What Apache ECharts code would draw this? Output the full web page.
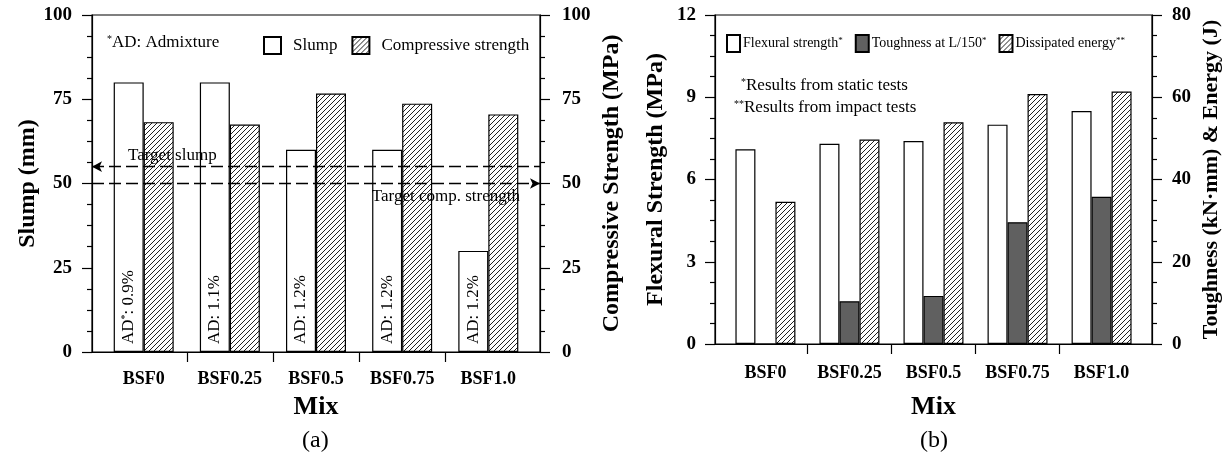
<!DOCTYPE html>
<html>
<head>
<meta charset="utf-8">
<script src="https://cdn.jsdelivr.net/npm/echarts@6/dist/echarts.min.js"></script>
<style>
  html, body { margin: 0; padding: 0; background: #fff; }
  #chart { width: 1227px; height: 466px; }
</style>
</head>
<body>
<div id="chart"></div>
<script>
const mixes = ["BSF0", "BSF0.25", "BSF0.5", "BSF0.75", "BSF1.0"];
// (a) slump and compressive strength
const slump = [80, 80, 60, 60, 30];
const compStrength = [68.2, 67.5, 76.7, 73.7, 70.5];
const adDose = ["0.9%", "1.1%", "1.2%", "1.2%", "1.2%"];
const targetSlump = 55;
const targetStrength = 50;
// (b) flexural, toughness, dissipated energy
const flexural = [7.1, 7.3, 7.4, 8.0, 8.5];
const toughness = [0, 10.4, 11.7, 29.6, 35.8];
const energy = [34.6, 49.7, 53.9, 60.8, 61.4];

const font = "'Liberation Serif', 'Times New Roman', serif";
const ink = "#000";
const darkBar = "#606060";

function hatch() {
  const c = document.createElement("canvas");
  c.width = 5;
  c.height = 5;
  const ctx = c.getContext("2d");
  ctx.fillStyle = "#fff";
  ctx.fillRect(0, 0, 5, 5);
  ctx.strokeStyle = "#222";
  ctx.lineWidth = 1;
  ctx.beginPath();
  ctx.moveTo(0, 5); ctx.lineTo(5, 0);
  ctx.moveTo(-1, 1); ctx.lineTo(1, -1);
  ctx.moveTo(4, 6); ctx.lineTo(6, 4);
  ctx.stroke();
  return { image: c, repeat: "repeat" };
}

const pts = (arr) => arr.map((v, i) => [i + 1, v]);
const sup = { fontFamily: font, fontSize: 10, verticalAlign: "top", color: ink };

function xAxisFor(gridIndex, labelMargin, nameGap) {
  return {
    type: "value",
    gridIndex,
    min: 0.4,
    max: 5.6,
    name: "Mix",
    nameLocation: "middle",
    nameGap,
    nameTextStyle: { fontFamily: font, fontWeight: "bold", fontSize: 26, color: ink },
    axisLine: { lineStyle: { color: ink, width: 1.2 } },
    axisTick: { length: 10, customValues: [1.5, 2.5, 3.5, 4.5], lineStyle: { color: ink, width: 1.2 } },
    axisLabel: {
      customValues: [1, 2, 3, 4, 5],
      formatter: (v) => mixes[Math.round(v) - 1],
      margin: labelMargin,
      fontFamily: font,
      fontWeight: "bold",
      fontSize: 18,
      color: ink,
    },
    splitLine: { show: false },
  };
}

function yAxisFor(gridIndex, position, max, interval, name, nameGap, labelMargin, nameSize) {
  return {
    type: "value",
    gridIndex,
    position,
    min: 0,
    max,
    interval,
    name,
    nameLocation: "middle",
    nameGap,
    nameTextStyle: { fontFamily: font, fontWeight: "bold", fontSize: nameSize, color: ink },
    axisLine: { show: true, lineStyle: { color: ink, width: 1.2 } },
    axisTick: { show: true, length: 10, lineStyle: { color: ink, width: 1.2 } },
    minorTick: { show: true, splitNumber: 4, length: 5, lineStyle: { color: ink, width: 1.2 } },
    axisLabel: { margin: labelMargin, fontFamily: font, fontWeight: "bold", fontSize: 19, color: ink },
    splitLine: { show: false },
  };
}

const richText = { t: { fontFamily: font, fontSize: 17, color: ink }, s: sup };

const chart = echarts.init(document.getElementById("chart"), null, { renderer: "canvas" });

chart.setOption({
  animation: false,
  backgroundColor: "#fff",
  textStyle: { fontFamily: font, color: ink },
  grid: [
    { left: 92, top: 15, width: 448, height: 337, show: true, borderColor: ink, borderWidth: 1.2, backgroundColor: "transparent" },
    { left: 715, top: 15, width: 437, height: 329, show: true, borderColor: ink, borderWidth: 1.2, backgroundColor: "transparent" },
  ],
  legend: [
    {
      left: 258,
      top: 31,
      itemWidth: 17,
      itemHeight: 17,
      itemGap: 14,
      icon: "rect",
      data: ["Slump", "Compressive strength"],
      textStyle: { fontFamily: font, fontSize: 17, color: ink, padding: [0, 0, 0, 7] },
    },
    {
      left: 721,
      top: 29,
      itemWidth: 13,
      itemHeight: 17,
      itemGap: 12,
      icon: "rect",
      data: ["Flexural strength", "Toughness at L/150", "Dissipated energy"],
      formatter: (name) => (name === "Dissipated energy" ? `{t|${name}}{s|**}` : `{t|${name}}{s|*}`),
      textStyle: {
        padding: [0, 0, 0, -2],
        rich: { t: { fontFamily: font, fontSize: 14, color: ink }, s: { ...sup, fontSize: 9 } },
      },
    },
  ],
  xAxis: [xAxisFor(0, 18, 42), xAxisFor(1, 20, 50)],
  yAxis: [
    yAxisFor(0, "left", 100, 25, "Slump (mm)", 47, 20, 24),
    yAxisFor(0, "right", 100, 25, "Compressive Strength (MPa)", 60, 22, 24),
    yAxisFor(1, "left", 12, 3, "Flexural Strength (MPa)", 47, 19, 24),
    yAxisFor(1, "right", 80, 20, "Toughness (kN\u00b7mm) & Energy (J)", 48, 20, 22),
  ],
  series: [
    {
      name: "Slump",
      type: "bar",
      xAxisIndex: 0,
      yAxisIndex: 0,
      barWidth: 30,
      barGap: "0%",
      data: pts(slump),
      itemStyle: { color: "#fff", borderColor: ink, borderWidth: 1.2 },
      label: {
        show: true,
        position: "insideBottom",
        rotate: 90,
        align: "left",
        verticalAlign: "middle",
        distance: 8,
        formatter: (p) =>
          p.dataIndex === 0 ? `{t|AD}{s|*}{t|: ${adDose[0]}}` : `{t|AD: ${adDose[p.dataIndex]}}`,
        rich: richText,
      },
      markLine: {
        silent: true,
        symbol: ["arrow", "none"],
        symbolSize: [8, 10],
        lineStyle: { color: ink, width: 1.3, type: [12, 5] },
        label: {
          formatter: "Target slump",
          position: "insideStartTop",
          distance: [36, 3],
          fontFamily: font,
          fontSize: 17,
          color: ink,
        },
        data: [{ yAxis: targetSlump }],
      },
    },
    {
      name: "Compressive strength",
      type: "bar",
      xAxisIndex: 0,
      yAxisIndex: 1,
      barWidth: 30,
      barGap: "0%",
      data: pts(compStrength),
      itemStyle: { color: hatch(), borderColor: ink, borderWidth: 1.2 },
      markLine: {
        silent: true,
        symbol: ["none", "arrow"],
        symbolSize: [8, 10],
        lineStyle: { color: ink, width: 1.3, type: [12, 5] },
        label: {
          formatter: "Target comp. strength",
          position: "insideEndBottom",
          distance: [20, 5],
          fontFamily: font,
          fontSize: 17,
          color: ink,
        },
        data: [{ yAxis: targetStrength }],
      },
    },
    {
      name: "Flexural strength",
      type: "bar",
      xAxisIndex: 1,
      yAxisIndex: 2,
      barWidth: 20,
      barGap: "0%",
      data: pts(flexural),
      itemStyle: { color: "#fff", borderColor: ink, borderWidth: 1.2 },
    },
    {
      name: "Toughness at L/150",
      type: "bar",
      xAxisIndex: 1,
      yAxisIndex: 3,
      barWidth: 20,
      barGap: "0%",
      data: pts(toughness),
      itemStyle: { color: darkBar, borderColor: ink, borderWidth: 1.2 },
    },
    {
      name: "Dissipated energy",
      type: "bar",
      xAxisIndex: 1,
      yAxisIndex: 3,
      barWidth: 20,
      barGap: "0%",
      data: pts(energy),
      itemStyle: { color: hatch(), borderColor: ink, borderWidth: 1.2 },
    },
  ],
  graphic: [
    {
      type: "text",
      left: 107,
      top: 34,
      style: { text: "{s|*}{t|AD: Admixture}", rich: richText },
    },
    {
      type: "text",
      left: 741,
      top: 77,
      style: { text: "{s|*}{t|Results from static tests}", rich: richText },
    },
    {
      type: "text",
      left: 734,
      top: 99,
      style: { text: "{s|**}{t|Results from impact tests}", rich: richText },
    },
    {
      type: "text",
      left: 302,
      top: 429,
      style: { text: "(a)", fontFamily: font, fontSize: 24, fill: ink },
    },
    {
      type: "text",
      left: 920,
      top: 429,
      style: { text: "(b)", fontFamily: font, fontSize: 24, fill: ink },
    },
  ],
});
</script>
</body>
</html>
